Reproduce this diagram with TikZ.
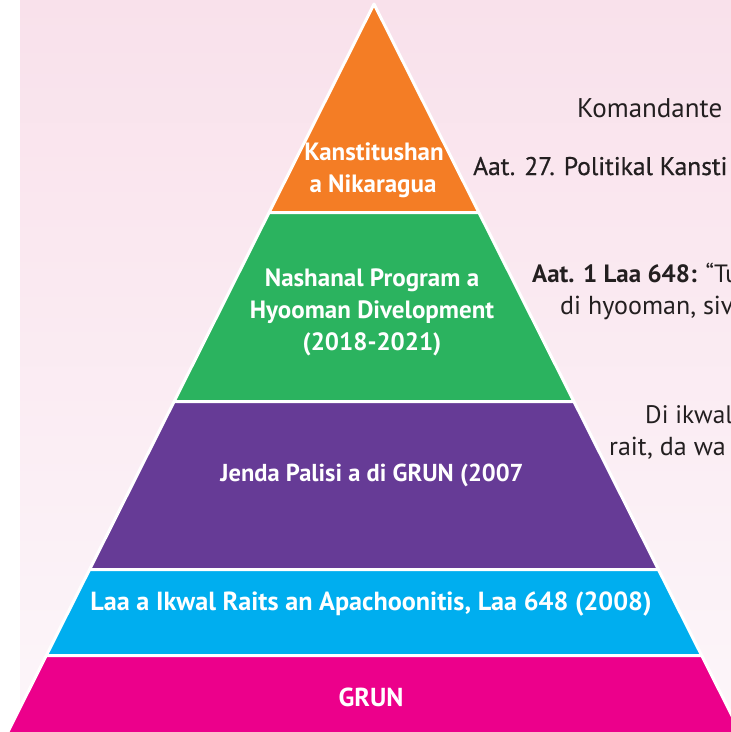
\documentclass[tikz,border=0pt]{standalone}
\usepackage{fontspec}
\setmainfont{PT Sans}
\newfontfamily\medfont[FakeBold=0.6]{PT Sans}
\definecolor{cOrange}{HTML}{F47D25}
\definecolor{cGreen}{HTML}{2BB35F}
\definecolor{cPurple}{HTML}{663B96}
\definecolor{cCyan}{HTML}{00AEEF}
\definecolor{cMagenta}{HTML}{EC008B}
\definecolor{cText}{HTML}{231F20}
\definecolor{cPinkTop}{HTML}{F9E1EB}
\definecolor{cPinkBot}{HTML}{FCF6FA}
\tikzset{
  layer/.style={draw=white, line width=3pt, line join=round},
  intext/.style={text=white, font=\fontsize{25}{30}\selectfont\bfseries, inner sep=0pt, anchor=base},
  sidetext/.style={text=cText, font=\fontsize{26}{32}\selectfont, inner sep=0pt, anchor=base west},
}
\begin{document}
\begin{tikzpicture}[x=1pt, y=-1pt]
\useasboundingbox (0,0) rectangle (731,732);
\clip (0,0) rectangle (731,732);
\fill[white] (0,0) rectangle (731,732);
\shade[top color=cPinkTop, bottom color=cPinkBot] (20,0) rectangle (731,732);
% layers
\filldraw[layer, fill=cOrange] (374,4) -- (478.9,212.5) -- (269.1,212.5) -- cycle;
\filldraw[layer, fill=cGreen] (269.1,212.5) -- (478.9,212.5) -- (573.9,401.5) -- (174.1,401.5) -- cycle;
\filldraw[layer, fill=cPurple] (174.1,401.5) -- (573.9,401.5) -- (658.4,569.5) -- (89.6,569.5) -- cycle;
\filldraw[layer, fill=cCyan] (89.6,569.5) -- (658.4,569.5) -- (701.7,655.5) -- (46.3,655.5) -- cycle;
\filldraw[layer, fill=cMagenta] (46.3,655.5) -- (701.7,655.5) -- (744.2,740) -- (3.8,740) -- cycle;
% layer texts
\node[intext] (k1) at (374,160) {Kanstitushan};
\node[intext] (k2) at (373,192) {a Nikaragua};
\node[intext] (n1) at (372,286) {Nashanal Program a};
\node[intext] (n2) at (372,318) {Hyooman Divelopment};
\node[intext] (n3) at (372,350) {(2018-2021)};
\node[intext, font=\fontsize{24.5}{30}\selectfont\bfseries] (j1) at (372,481) {Jenda Palisi a di GRUN (2007};
\node[intext, font=\fontsize{26.2}{30}\selectfont\bfseries] (l1) at (371,610) {Laa a Ikwal Raits an Apachoonitis, Laa 648 (2008)};
\node[intext, font=\fontsize{26}{30}\selectfont\bfseries] (g1) at (371,706) {GRUN};
% side texts
\node[sidetext, font=\fontsize{27}{32}\selectfont] (s1) at (577,117) {Komandante};
\node[sidetext, font=\fontsize{25.5}{32}\medfont] (s2) at (473,175) {Aat. 27. Politikal Kansti};
\node[sidetext, font=\fontsize{25}{32}\selectfont] (s3) at (532,282) {\textbf{Aat. 1 Laa 648:} “Tu};
\node[sidetext] (s4) at (560,314) {di hyooman, siv};
\node[sidetext, font=\fontsize{25.3}{32}\selectfont] (s5) at (645,423) {Di ikwal};
\node[sidetext] (s6) at (609,455) {rait, da wa};
\end{tikzpicture}
\end{document}
